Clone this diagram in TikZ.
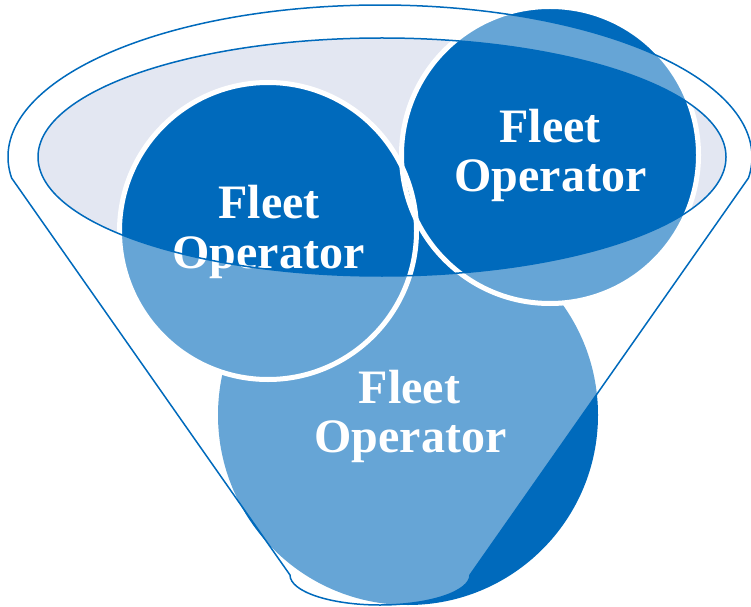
\documentclass[tikz,border=0pt]{standalone}
\usepackage{fontspec}
\setmainfont{Liberation Serif}
\definecolor{fblue}{RGB}{0,106,188}
\definecolor{flav}{RGB}{227,231,242}
\tikzset{
  disc/.style={fill=fblue},
  ring/.style={draw=white, line width=5pt},
  lbl/.style={text=white, inner sep=0pt, anchor=base, font=\fontsize{48}{49}\selectfont\bfseries},
  rim/.style={draw=fblue, line width=1.5pt},
}
\begin{document}
\begin{tikzpicture}[x=1pt,y=1pt]
\useasboundingbox (0,0) rectangle (751,606);
% opening of the funnel
\fill[flav] (382,449) ellipse[x radius=344, y radius=119];
% circles
\fill[disc] (408,191) circle (190);
\fill[disc] (268,375) circle (148.5);
\fill[disc] (550,451) circle (148.5);
\draw[ring] (268,375) circle (148.5);
\draw[ring] (550,451) circle (148.5);
% labels
\node[lbl] (c1a) at (269,388) {Fleet};
\node[lbl] (c1b) at (268.5,338) {Operator};
\node[lbl] (c2a) at (550,463) {Fleet};
\node[lbl] (c2b) at (550.5,414) {Operator};
\node[lbl] (c3a) at (409.5,203) {Fleet};
\node[lbl] (c3b) at (410.5,154) {Operator};
% funnel body (translucent)
\fill[white, fill opacity=0.4, even odd rule]
  (11.6,428) arc[start angle=187.94, end angle=-7.94, x radius=372, y radius=152]
  -- (470,31) arc[start angle=0, end angle=-180, x radius=90, y radius=30] -- cycle
  (382,449) ellipse[x radius=344, y radius=119];
% outlines
\draw[rim] (11.6,428) arc[start angle=187.94, end angle=-7.94, x radius=372, y radius=152]
  -- (470,31) arc[start angle=0, end angle=-180, x radius=90, y radius=30] -- cycle;
\draw[rim] (382,449) ellipse[x radius=344, y radius=119];
\end{tikzpicture}
\end{document}
